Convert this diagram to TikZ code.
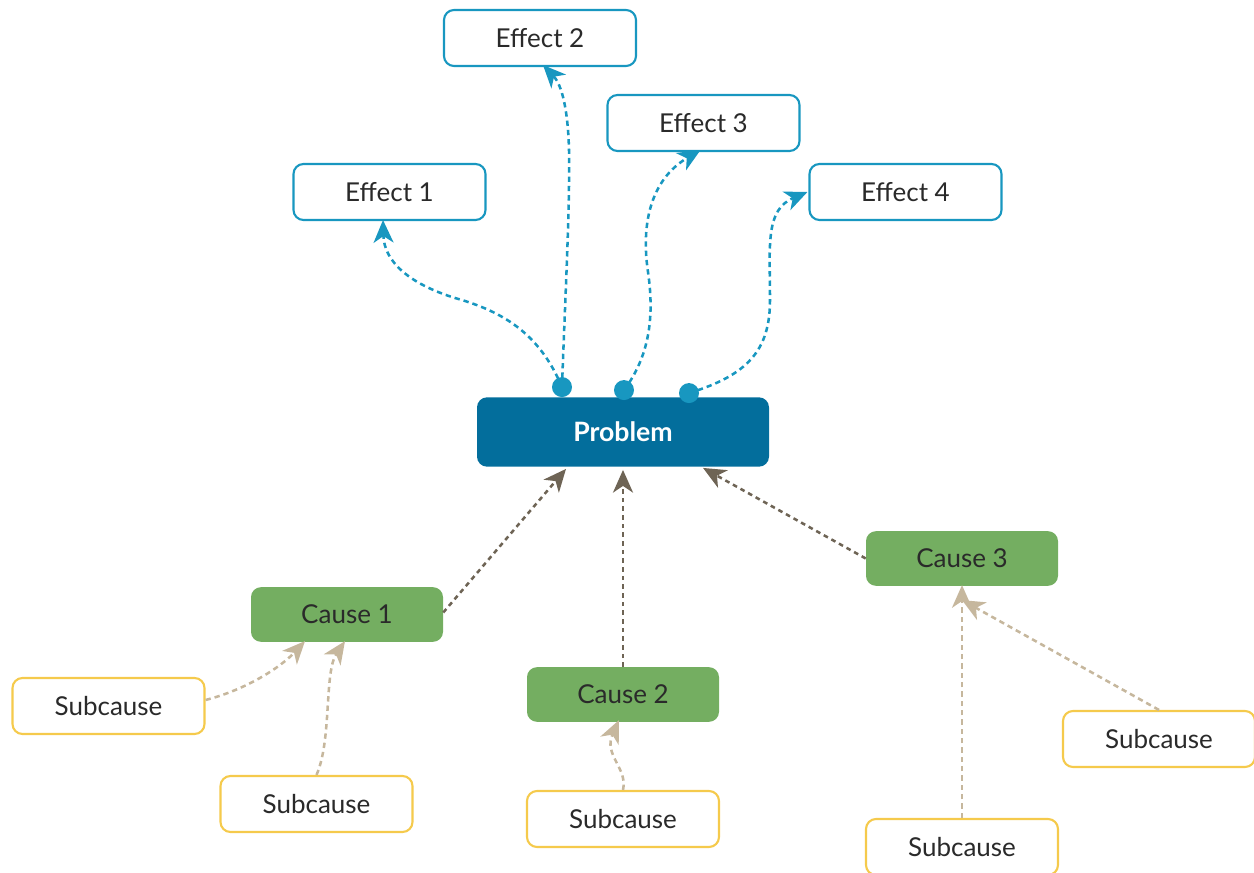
\documentclass[tikz,border=0pt]{standalone}
\usepackage{fontspec}
\setmainfont{Lato}
\usetikzlibrary{arrows.meta,calc}
\definecolor{effblue}{HTML}{1897C0}
\definecolor{probblue}{HTML}{036E9C}
\definecolor{causegreen}{HTML}{74AE61}
\definecolor{causeline}{HTML}{6E6455}
\definecolor{subline}{HTML}{C6B79D}
\definecolor{subyellow}{HTML}{F5CA4C}
\definecolor{ink}{HTML}{2A2A2A}
\begin{document}
\begin{tikzpicture}[x=0.75pt,y=-0.75pt,
  box/.style={rounded corners=7.5pt,minimum width=144pt,minimum height=42pt,inner sep=0pt,
    font=\fontsize{19.5}{22}\selectfont,text=ink},
  effect/.style={box,draw=effblue,line width=1.6pt,fill=white},
  problem/.style={box,fill=probblue,minimum width=219pt,minimum height=52pt,text=white,
    font=\fontsize{20}{22}\selectfont\bfseries},
  cause/.style={box,fill=causegreen,minimum height=41pt},
  subcause/.style={box,draw=subyellow,line width=1.6pt,fill=white},
  tip/.style={-{Stealth[length=17pt,width=15pt,inset=5pt]}},
  effline/.style={tip,draw=effblue,line width=1.9pt,dash pattern=on 4pt off 3pt},
  causeconn/.style={tip,draw=causeline,line width=1.9pt,dash pattern=on 3.5pt off 3pt},
  subconn/.style={tip,draw=subline,line width=1.9pt,dash pattern=on 4pt off 3pt},
  dot/.style={circle,fill=effblue,inner sep=0pt,minimum size=15pt}]
\useasboundingbox (0,0) rectangle (1254,873);

% effects
\node[effect] (e2) at (540,38) {Effect 2};
\node[effect] (e3) at (703.5,123) {Effect 3};
\node[effect] (e1) at (389.5,192) {Effect 1};
\node[effect] (e4) at (905.5,192) {Effect 4};

% central problem
\node[problem] (p) at (623,432) {Problem};

% causes
\node[cause] (c1) at (347,614.5) {Cause 1};
\node[cause] (c2) at (623,694.5) {Cause 2};
\node[cause] (c3) at (962,558.5) {Cause 3};

% subcauses
\node[subcause] (s1) at (108.5,706) {Subcause};
\node[subcause] (s2) at (316.5,804) {Subcause};
\node[subcause] (s3) at (623,819) {Subcause};
\node[subcause] (s4) at (1159,739) {Subcause};
\node[subcause] (s5) at (962,847) {Subcause};

% anchor dots on top of the problem box
\coordinate (d1) at ($(p.north)+(-61,-10)$);
\coordinate (d3) at ($(p.north)+(1,-7)$);
\coordinate (d4) at ($(p.north)+(66,-4)$);
\coordinate (t1) at ($(e1.south)+(-6.5,-1)$);
\coordinate (t2) at ($(e2.south)+(3,-2)$);
\coordinate (t3) at ($(e3.south)+(-3,-2)$);
\coordinate (t4) at ($(e4.west)+(-1,0)$);

% effect connectors
\draw[effline] (d1) .. controls (540,335) and (505,312) .. (455,298)
  .. controls (410,284) and (384,262) .. (t1);
\draw[effline] (d1) .. controls (565,300) and (570,210) .. (569,150)
  .. controls (568,110) and (562,85) .. (t2);
\draw[effline] (d3) .. controls (648,358) and (655,320) .. (648,272)
  .. controls (641,225) and (650,180) .. (t3);
\draw[effline] (d4) .. controls (748,375) and (770,350) .. (770,300)
  .. controls (770,245) and (765,210) .. (t4);

\node[dot] at (d1) {};
\node[dot] at (d3) {};
\node[dot] at (d4) {};

% cause connectors
\draw[causeconn] ($(c1.east)+(0,-2)$) -- ($(p.south)+(-57,2)$);
\draw[causeconn] (c2.north) -- ($(p.south)+(0,3)$);
\draw[causeconn] (c3.west) -- ($(p.south)+(80,1)$);

% subcause connectors
\draw[subconn] ($(s1.east)+(0,-6)$) .. controls (245,690) and (280,668) .. ($(c1.south)+(-42,-1)$);
\draw[subconn] (s2.north) .. controls (332,740) and (324,672) .. ($(c1.south)+(-2,-1)$);
\draw[subconn] (s3.north) .. controls (628,768) and (603,755) .. ($(c2.south)+(-4,-2)$);
\draw[subconn] (s5.north) -- ($(c3.south)+(0,-1)$);
\draw[subconn] (s4.north) -- ($(c3.south)+(0,14)$);
\end{tikzpicture}
\end{document}
